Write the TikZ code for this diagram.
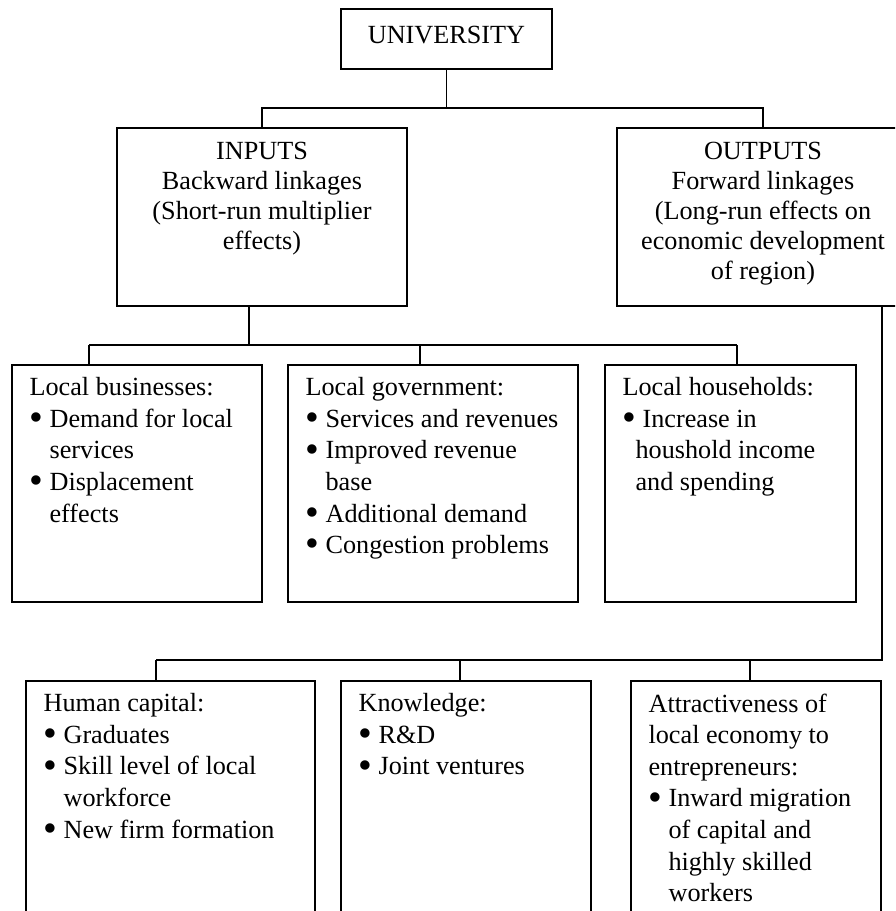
\documentclass[tikz,border=0pt]{standalone}
\usepackage{fontspec}
\setmainfont{Liberation Serif}
\usetikzlibrary{positioning}

\newcommand{\bul}{\makebox[10pt][l]{\raisebox{-1.6pt}{\scalebox{1.5}{\textbullet}}}}	%bullet and gap
\newcommand{\ind}{\hspace*{10pt}}	%indent of wrapped line

\begin{document}
\begin{tikzpicture}[x=0.5pt,y=-0.5pt,line width=0.6pt,
	box/.style={draw,inner sep=0pt,outer sep=0pt,anchor=north west,minimum height=118.5pt},
	headtext/.style={inner sep=0pt,align=center,anchor=north,font=\fontsize{13.1}{14.9}\selectfont,execute at begin node={\rule{0pt}{10pt}}},
	boxtext/.style={inner sep=0pt,align=left,anchor=north west,font=\fontsize{13.1}{15.8}\selectfont,execute at begin node={\rule{0pt}{10pt}}}]
	\def\bi{345}	%y of inputs bus
	\def\bo{660}	%y of outputs bus
	
	\path[use as bounding box,clip] (0,0) rectangle (895,911);
	
	%TOP BOXES
	\node[box,minimum width=105.5pt,minimum height=30pt] (uni) at (341,9) {};
	\node[headtext,below=7pt of uni.north] (unit) {UNIVERSITY};
	\node[box,minimum width=145pt,minimum height=89pt] (inp) at (117,128) {};
	\node[headtext,below=7pt of inp.north] (inpt) {INPUTS\\Backward linkages\\(Short-run multiplier\\effects)};
	\node[box,minimum width=146pt,minimum height=89pt] (outp) at (617,128) {};
	\node[headtext,below=7pt of outp.north] (outpt) {OUTPUTS\\Forward linkages\\(Long-run effects on\\economic development\\of region)};
	
	%BACKWARD LINKAGES
	\node[box,minimum width=125pt] (lb) at (12,365) {};
	\node[box,minimum width=145pt] (lg) at (288,365) {};
	\node[box,minimum width=125.5pt] (lh) at (605,365) {};
	\node[boxtext,below right=6pt and 8.5pt of lb.north west] (lbt) {Local businesses:\\\bul Demand for local\\\ind services\\\bul Displacement\\\ind effects};
	\node[boxtext,below right=6pt and 8.5pt of lg.north west] (lgt) {Local government:\\\bul Services and revenues\\\bul Improved revenue\\\ind base\\\bul Additional demand\\\bul Congestion problems};
	\node[boxtext,below right=6pt and 8.5pt of lh.north west] (lht) {Local households:\\\bul Increase in\\\hspace*{6.5pt}houshold income\\\hspace*{6.5pt}and spending};
	
	%FORWARD LINKAGES
	\node[box,minimum width=144.5pt,minimum height=150pt] (hc) at (26,681) {};
	\node[box,minimum width=125pt,minimum height=150pt] (kn) at (341,681) {};
	\node[box,minimum width=125pt,minimum height=150pt] (attr) at (631,681) {};
	\node[boxtext,below right=6pt and 8.5pt of hc.north west] (hct) {Human capital:\\\bul Graduates\\\bul Skill level of local\\\ind workforce\\\bul New firm formation};
	\node[boxtext,below right=6pt and 8.5pt of kn.north west] (knt) {Knowledge:\\\bul R\&D\\\bul Joint ventures};
	\node[boxtext,below right=6pt and 8.5pt of attr.north west] (attrt) {Attractiveness of\\local economy to\\entrepreneurs:\\\bul Inward migration\\\ind of capital and\\\ind highly skilled\\\ind workers};
	
	%CONNECTORS
	\coordinate[below=19.5pt of uni.south] (j1);
	\draw (uni.south) -- (j1);
	\draw (inp.north) |- (j1) -| (outp.north);
	%
	\coordinate (j2) at (249,\bi);
	\draw (inp.south -| j2) -- (j2);
	\draw (89,\bi) -- (737,\bi);
	\foreach \x/\n in {89/lb,420/lg,737/lh}
		\draw (\x,\bi) -- (\n.north -| \x,0);
	%
	\coordinate (j3) at (882,\bo);
	\draw (outp.south -| j3) -- (j3) -- (156,\bo);
	\foreach \x/\n in {156/hc,460/kn,750/attr}
		\draw (\x,\bo) -- (\n.north -| \x,0);
\end{tikzpicture}
\end{document}
